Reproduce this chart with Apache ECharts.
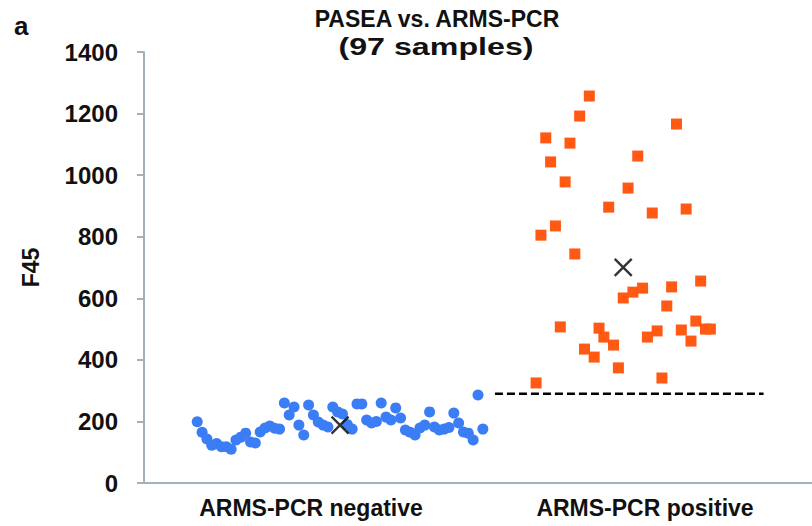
<!DOCTYPE html>
<html>
<head>
<meta charset="utf-8">
<script src="https://cdn.jsdelivr.net/npm/echarts@6/dist/echarts.min.js"></script>
<style>
  html, body { margin: 0; padding: 0; background: #ffffff; }
  #chart { width: 812px; height: 526px; }
</style>
</head>
<body>
<div id="chart"></div>
<script>
// F45 readings per sample, in sample order
const categories = ['ARMS-PCR negative', 'ARMS-PCR positive'];

const negativeF45 = [
  199, 165, 143, 123, 128, 118, 118, 110, 140, 149,
  162, 133, 130, 166, 179, 185, 178, 175, 260, 221,
  247, 188, 156, 253, 221, 198, 188, 182, 247, 231,
  224, 190, 175, 257, 257, 205, 195, 200, 260, 214,
  205, 244, 211, 172, 165, 156, 179, 188, 231, 182,
  172, 175, 180, 227, 195, 166, 162, 140, 286, 175
];

const positiveF45 = [
  325, 805, 1121, 1043, 835, 507, 978, 1104, 744, 1192,
  435, 1257, 409, 503, 474, 896, 448, 374, 601, 958,
  620, 1062, 633, 474, 877, 494, 341, 575, 637, 1166,
  497, 890, 461, 526, 656, 500, 500
];

// sample numbering along the horizontal axis
const negativeFirstSample = 1;
const positiveFirstSample = 71;

// cut-off level for positive calls and the sample range it spans
const cutoffF45 = 290;
const cutoffSamples = [62.5, 118];

const yTicks = [0, 200, 400, 600, 800, 1000, 1200, 1400];

const titleLines = ['PASEA vs. ARMS-PCR', '(97 samples)'];

const FONT = '"Liberation Sans", Arial, Helvetica, sans-serif';
const AXIS_COLOR = '#a3b1b9';
const TEXT_COLOR = '#111111';

const mean = arr => arr.reduce((s, v) => s + v, 0) / arr.length;

const negativePoints = negativeF45.map((v, i) => [negativeFirstSample + i, v]);
const positivePoints = positiveF45.map((v, i) => [positiveFirstSample + i, v]);
const meanPoints = [
  [negativeFirstSample + (negativeF45.length - 1) / 2, mean(negativeF45)],
  [positiveFirstSample + (positiveF45.length - 1) / 2, mean(positiveF45)]
];
const cutoffLine = cutoffSamples.map(s => [s, cutoffF45]);

const chart = echarts.init(document.getElementById('chart'), null, { renderer: 'svg' });

chart.setOption({
  animation: false,
  backgroundColor: '#ffffff',
  graphic: [
    {
      type: 'text',
      left: 14,
      top: 13,
      style: { text: 'a', font: 'bold 26px ' + FONT, fill: TEXT_COLOR }
    },
    {
      type: 'text',
      x: 437,
      y: 7,
      style: {
        text: titleLines[0],
        font: 'bold 23px ' + FONT,
        align: 'center',
        fill: TEXT_COLOR
      }
    },
    {
      type: 'text',
      x: 436,
      y: 36,
      scaleX: 1.4,
      style: {
        text: titleLines[1],
        font: 'bold 23px ' + FONT,
        align: 'center',
        fill: TEXT_COLOR
      }
    }
  ],
  grid: { left: 144, right: -4, top: 52, bottom: 43, containLabel: false },
  xAxis: [
    {
      type: 'value',
      min: -10,
      max: 128,
      position: 'bottom',
      show: false,
      splitLine: { show: false }
    },
    {
      type: 'category',
      data: categories,
      position: 'bottom',
      boundaryGap: true,
      axisLine: { show: true, onZero: false, lineStyle: { color: AXIS_COLOR, width: 2 } },
      axisTick: { show: false },
      splitLine: { show: false },
      axisLabel: {
        fontFamily: FONT,
        fontWeight: 'bold',
        fontSize: 23,
        color: TEXT_COLOR,
        margin: 13
      }
    }
  ],
  yAxis: {
    type: 'value',
    min: yTicks[0],
    max: yTicks[yTicks.length - 1],
    interval: yTicks[1] - yTicks[0],
    name: 'F45',
    nameLocation: 'middle',
    nameRotate: 90,
    nameGap: 102,
    nameTextStyle: { fontFamily: FONT, fontWeight: 'bold', fontSize: 23, color: TEXT_COLOR },
    axisLine: { show: true, onZero: false, lineStyle: { color: AXIS_COLOR, width: 2 } },
    axisTick: { show: true, length: 7, lineStyle: { color: AXIS_COLOR, width: 2 } },
    splitLine: { show: false },
    axisLabel: {
      fontFamily: FONT,
      fontWeight: 'bold',
      fontSize: 24,
      color: TEXT_COLOR,
      margin: 26,
      formatter: v => String(v)
    }
  },
  series: [
    {
      name: 'cut-off',
      type: 'line',
      xAxisIndex: 0,
      data: cutoffLine,
      symbol: 'none',
      silent: true,
      lineStyle: { color: '#000000', width: 2.6, type: [8, 4] },
      z: 2
    },
    {
      name: 'ARMS-PCR negative',
      type: 'scatter',
      xAxisIndex: 0,
      data: negativePoints,
      symbol: 'circle',
      symbolSize: 11,
      itemStyle: { color: '#3b7df4', opacity: 1 },
      z: 3
    },
    {
      name: 'ARMS-PCR positive',
      type: 'scatter',
      xAxisIndex: 0,
      data: positivePoints,
      symbol: 'rect',
      symbolSize: 11,
      itemStyle: { color: '#ff5914', opacity: 1 },
      z: 3
    },
    {
      name: 'mean',
      type: 'scatter',
      xAxisIndex: 0,
      data: meanPoints,
      symbol: 'path://M0,0L10,10M10,0L0,10',
      symbolSize: 17,
      itemStyle: { color: 'none', borderColor: '#000000', borderWidth: 2.4 },
      z: 5
    }
  ]
});
</script>
</body>
</html>
